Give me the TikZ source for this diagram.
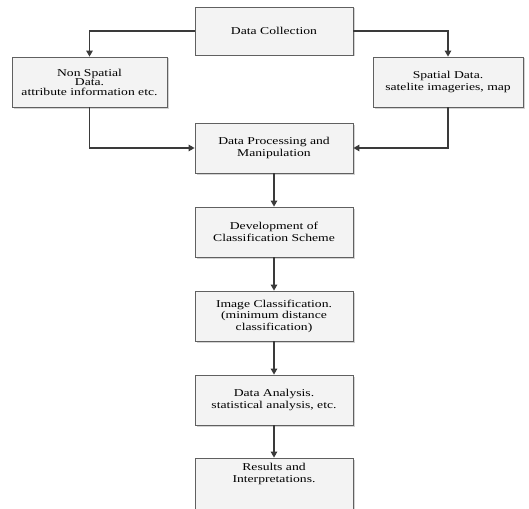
\documentclass[tikz,border=0pt]{standalone}
\usepackage{fontspec}
\setmainfont{Liberation Serif}[FakeStretch=1.3]
\usetikzlibrary{arrows.meta,shadows}
\definecolor{boxfill}{HTML}{F3F3F3}
\definecolor{boxline}{HTML}{606060}
\definecolor{arrowc}{HTML}{3A3A3A}
\begin{document}
\begin{tikzpicture}[x=1pt,y=-1pt,
  procbox/.style={draw=boxline, line width=0.8pt, fill=boxfill, align=center,
    inner sep=0pt, font=\fontsize{10.5}{11.5}\selectfont,
    drop shadow={shadow xshift=1.5pt, shadow yshift=-1.5pt, opacity=0.35, fill=gray}},
  flow/.style={draw=arrowc, line width=1.2pt, -{Triangle[length=6pt,width=6.5pt]}}]
\useasboundingbox (0,0) rectangle (529,508);
\node[procbox, minimum width=158pt, minimum height=48pt] (dc) at (274,31) {Data Collection};
\node[procbox, minimum width=155pt, minimum height=50pt, font=\fontsize{10.5}{9.5}\selectfont] (ns) at (89.5,82) {Non Spatial\\Data.\\attribute information etc.};
\node[procbox, minimum width=150pt, minimum height=50pt] (sp) at (448,82) {Spatial Data.\\satelite imageries, map};
\node[procbox, minimum width=158pt, minimum height=50pt] (dp) at (274,148) {Data Processing and\\Manipulation};
\node[procbox, minimum width=158pt, minimum height=50pt] (dev) at (274,232) {Development of\\Classification Scheme};
\node[procbox, minimum width=158pt, minimum height=50pt] (ic) at (274,316) {Image Classification.\\(minimum distance\\classification)};
\node[procbox, minimum width=158pt, minimum height=50pt] (da) at (274,400) {Data Analysis.\\statistical analysis, etc.};
\node[procbox, minimum width=158pt, minimum height=64pt] (res) at (274,490) {};
\node[align=center, inner sep=0pt, font=\fontsize{10.5}{11.5}\selectfont] (rest) at (274,474) {Results and\\Interpretations.};
\draw[flow] (dc.west) -| (ns.north);
\draw[flow] (dc.east) -| (sp.north);
\draw[flow] (ns.south) |- (dp.west);
\draw[flow] (sp.south) |- (dp.east);
\draw[flow] (dp) -- (dev);
\draw[flow] (dev) -- (ic);
\draw[flow] (ic) -- (da);
\draw[flow] (da) -- (res);
\end{tikzpicture}
\end{document}
